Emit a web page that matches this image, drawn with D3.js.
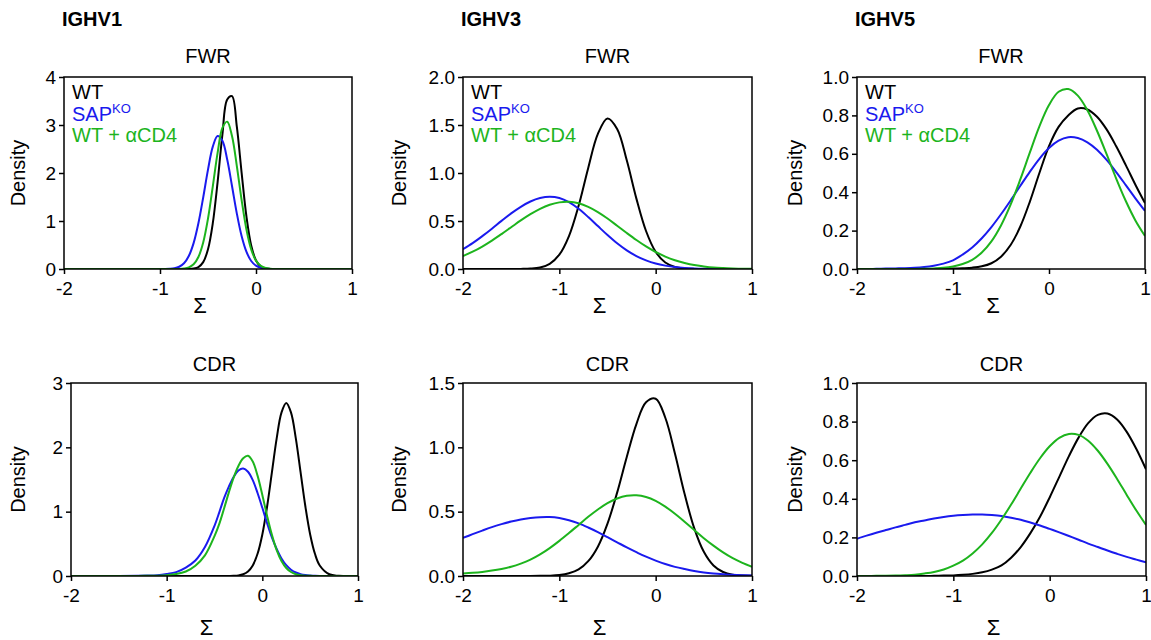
<!DOCTYPE html>
<html>
<head>
<meta charset="utf-8">
<script src="https://cdn.jsdelivr.net/npm/d3@7"></script>
<style>
  html, body { margin: 0; padding: 0; background: #fff; }
  svg { display: block; }
  text { font-family: "Liberation Sans", Arial, Helvetica, sans-serif; }
</style>
</head>
<body>
<svg id="chart" width="1151" height="640"></svg>
<script>
// ---------------- data ----------------
const genes = ["IGHV1", "IGHV3", "IGHV5"];
const regions = ["FWR", "CDR"];
const groupNames = ["WT", "SAP", "WT + αCD4"];
const groupSup = ["", "KO", ""];
const xTicks = [-2, -1, 0, 1];
const yTicksV1F = [0, 1, 2, 3, 4];
const yTicksV3F = [0, 0.5, 1.0, 1.5, 2.0];
const yTicksV5F = [0, 0.2, 0.4, 0.6, 0.8, 1.0];
const yTicksV1C = [0, 1, 2, 3];
const yTicksV3C = [0, 0.5, 1.0, 1.5];
const yTicksV5C = [0, 0.2, 0.4, 0.6, 0.8, 1.0];

const step01 = [-2,-1.9,-1.8,-1.7,-1.6,-1.5,-1.4,-1.3,-1.2,-1.1,-1.0,-0.9,-0.8,-0.7,-0.6,-0.5,-0.4,-0.3,-0.2,-0.1,0,0.1,0.2,0.3,0.4,0.5,0.6,0.7,0.8,0.9,1.0];

// IGHV1 FWR
const v1fX = [-2,-1.5,-1,-0.95,-0.9,-0.85,-0.8,-0.75,-0.7,-0.65,-0.6,-0.55,-0.5,-0.45,-0.4,-0.35,-0.3,-0.25,-0.2,-0.15,-0.1,-0.05,0,0.05,0.1,0.15,0.2,0.3,0.5,1];
const v1fWT  = [0,0,0,0,0,0,0,0,0.002,0.009,0.040,0.143,0.41,0.954,1.81,2.80,3.53,3.60,2.97,2.01,1.10,0.49,0.179,0.053,0.013,0.002,0,0,0,0];
const v1fSAP = [0,0,0,0.001,0.005,0.016,0.047,0.119,0.270,0.539,0.953,1.49,2.07,2.55,2.77,2.67,2.28,1.73,1.16,0.687,0.361,0.167,0.069,0.025,0.008,0.002,0,0,0,0];
const v1fCD4 = [0,0,0,0,0,0.001,0.002,0.010,0.033,0.098,0.251,0.553,1.05,1.72,2.42,2.94,3.07,2.77,2.15,1.44,0.829,0.409,0.175,0.065,0.021,0.006,0.001,0,0,0];

// IGHV3 FWR
const v3fX = step01;
const v3fWT  = [0,0,0,0,0,0,0.001,0.004,0.016,0.054,0.149,0.343,0.658,1.053,1.407,1.568,1.459,1.132,0.733,0.396,0.179,0.067,0.021,0.006,0.001,0,0,0,0,0,0];
const v3fSAP = [0.206,0.269,0.342,0.420,0.501,0.579,0.648,0.703,0.739,0.753,0.740,0.696,0.627,0.541,0.447,0.354,0.268,0.194,0.135,0.090,0.057,0.035,0.020,0.011,0.006,0.003,0.0015,0.001,0,0,0];
const v3fCD4 = [0.135,0.180,0.234,0.296,0.364,0.435,0.506,0.571,0.627,0.669,0.694,0.700,0.684,0.647,0.593,0.526,0.451,0.375,0.302,0.235,0.177,0.129,0.091,0.063,0.041,0.027,0.016,0.010,0.006,0.003,0.002];

// IGHV5 FWR
const v5fX = step01;
const v5fWT  = [0,0,0,0,0,0,0,0,0,0.001,0.002,0.004,0.007,0.014,0.030,0.064,0.125,0.220,0.350,0.500,0.640,0.740,0.800,0.836,0.831,0.793,0.727,0.639,0.541,0.439,0.343];
const v5fSAP = [0,0,0.001,0.002,0.003,0.004,0.006,0.010,0.017,0.028,0.045,0.075,0.112,0.160,0.218,0.285,0.357,0.432,0.506,0.574,0.630,0.668,0.686,0.682,0.660,0.621,0.568,0.505,0.437,0.368,0.302];
const v5fCD4 = [0,0,0,0,0,0,0,0.001,0.003,0.006,0.013,0.026,0.048,0.086,0.144,0.227,0.335,0.465,0.606,0.743,0.854,0.923,0.937,0.903,0.827,0.720,0.598,0.471,0.354,0.253,0.172];

// IGHV1 CDR
const v1cX = [-2,-1.5,-1.3,-1.2,-1.1,-1.0,-0.9,-0.8,-0.7,-0.6,-0.5,-0.45,-0.4,-0.35,-0.3,-0.25,-0.2,-0.15,-0.1,-0.05,0,0.05,0.1,0.15,0.2,0.25,0.3,0.35,0.4,0.45,0.5,0.55,0.6,0.7,0.8,1];
const v1cWT  = [0,0,0,0,0,0,0,0,0,0,0,0,0,0.001,0.003,0.009,0.027,0.070,0.164,0.345,0.646,1.08,1.61,2.14,2.54,2.69,2.54,2.14,1.61,1.08,0.646,0.345,0.164,0.027,0.003,0];
const v1cSAP = [0,0,0.003,0.006,0.012,0.03,0.06,0.13,0.24,0.45,0.78,0.99,1.21,1.39,1.54,1.64,1.67,1.62,1.49,1.29,1.06,0.82,0.60,0.42,0.272,0.168,0.098,0.054,0.028,0.014,0.007,0.003,0.001,0,0,0];
const v1cCD4 = [0,0,0.001,0.003,0.005,0.012,0.03,0.07,0.16,0.32,0.62,0.81,1.05,1.30,1.53,1.71,1.83,1.87,1.78,1.56,1.26,0.934,0.639,0.402,0.234,0.125,0.062,0.028,0.012,0.005,0.002,0.001,0,0,0,0];

// IGHV3 CDR
const v3cX = step01;
const v3cWT  = [0,0,0,0,0,0,0,0,0.001,0.002,0.007,0.021,0.051,0.115,0.228,0.407,0.648,0.925,1.181,1.350,1.378,1.230,0.952,0.639,0.372,0.188,0.082,0.031,0.010,0.003,0.001];
const v3cSAP = [0.296,0.325,0.353,0.380,0.403,0.423,0.439,0.450,0.457,0.458,0.450,0.433,0.409,0.377,0.341,0.302,0.262,0.222,0.185,0.150,0.120,0.093,0.071,0.054,0.039,0.028,0.020,0.014,0.009,0.006,0.004];
const v3cCD4 = [0.020,0.025,0.032,0.042,0.055,0.072,0.096,0.127,0.168,0.217,0.273,0.334,0.397,0.460,0.517,0.566,0.602,0.623,0.627,0.614,0.584,0.539,0.484,0.422,0.358,0.294,0.236,0.183,0.138,0.102,0.072];

// IGHV5 CDR
const v5cX = step01;
const v5cWT  = [0,0,0,0,0,0,0,0,0.001,0.002,0.003,0.006,0.011,0.019,0.033,0.055,0.095,0.150,0.222,0.307,0.407,0.514,0.621,0.717,0.792,0.835,0.842,0.811,0.747,0.658,0.553];
const v5cSAP = [0.193,0.209,0.224,0.238,0.252,0.265,0.278,0.288,0.298,0.306,0.312,0.316,0.3185,0.319,0.316,0.311,0.302,0.291,0.277,0.262,0.244,0.226,0.207,0.188,0.168,0.150,0.132,0.115,0.099,0.085,0.071];
const v5cCD4 = [0,0,0.001,0.001,0.002,0.004,0.007,0.013,0.021,0.034,0.054,0.080,0.117,0.164,0.223,0.293,0.370,0.453,0.535,0.610,0.672,0.716,0.736,0.731,0.701,0.649,0.581,0.503,0.420,0.339,0.264];

// ---------------- layout ----------------
const colors = ["#000000", "#1a1aee", "#1db41d"];
const panels = [
  {gene: 0, region: 0, x0: 64,  x1: 352,  y0: 77,  y1: 269, yMax: 4,   ticks: yTicksV1F, fmt: d3.format("d"),  xs: v1fX, ys: [v1fWT, v1fSAP, v1fCD4], densX: 18,  legend: true,  sigY: 313},
  {gene: 1, region: 0, x0: 463, x1: 752,  y0: 77,  y1: 269, yMax: 2,   ticks: yTicksV3F, fmt: d3.format(".1f"), xs: v3fX, ys: [v3fWT, v3fSAP, v3fCD4], densX: 399, legend: true,  sigY: 313},
  {gene: 2, region: 0, x0: 857, x1: 1145, y0: 77,  y1: 269, yMax: 1,   ticks: yTicksV5F, fmt: d3.format(".1f"), xs: v5fX, ys: [v5fWT, v5fSAP, v5fCD4], densX: 795, legend: true,  sigY: 313},
  {gene: 0, region: 1, x0: 71,  x1: 358,  y0: 383, y1: 576, yMax: 3,   ticks: yTicksV1C, fmt: d3.format("d"),  xs: v1cX, ys: [v1cWT, v1cSAP, v1cCD4], densX: 18,  legend: false, sigY: 635},
  {gene: 1, region: 1, x0: 463, x1: 752,  y0: 383, y1: 576, yMax: 1.5, ticks: yTicksV3C, fmt: d3.format(".1f"), xs: v3cX, ys: [v3cWT, v3cSAP, v3cCD4], densX: 399, legend: false, sigY: 635},
  {gene: 2, region: 1, x0: 857, x1: 1146, y0: 383, y1: 576, yMax: 1,   ticks: yTicksV5C, fmt: d3.format(".1f"), xs: v5cX, ys: [v5cWT, v5cSAP, v5cCD4], densX: 795, legend: false, sigY: 635}
];

const svg = d3.select("#chart");
const defs = svg.append("defs");

// gene titles
panels.filter(p => p.region === 0).forEach(p => {
  svg.append("text")
    .attr("x", p.x0 - 2).attr("y", 26)
    .attr("font-size", 20).attr("font-weight", "bold")
    .text(genes[p.gene]);
});

panels.forEach((p, i) => {
  const x = d3.scaleLinear().domain([-2, 1]).range([p.x0, p.x1]);
  const y = d3.scaleLinear().domain([0, p.yMax]).range([p.y1, p.y0]);
  const g = svg.append("g");

  // region title
  g.append("text")
    .attr("x", (p.x0 + p.x1) / 2).attr("y", p.region === 0 ? 63 : 371)
    .attr("text-anchor", "middle").attr("font-size", 20)
    .text(regions[p.region]);

  // curves
  defs.append("clipPath").attr("id", "clip" + i)
    .append("rect").attr("x", p.x0).attr("y", p.y0 - 2)
    .attr("width", p.x1 - p.x0).attr("height", p.y1 - p.y0 + 2);

  const line = d3.line()
    .x((d, j) => x(p.xs[j]))
    .y(d => y(d))
    .curve(d3.curveCatmullRom.alpha(0.5));

  const cg = g.append("g").attr("clip-path", `url(#clip${i})`);
  p.ys.forEach((series, k) => {
    cg.append("path")
      .attr("d", line(series))
      .attr("fill", "none")
      .attr("stroke", colors[k])
      .attr("stroke-width", 2);
  });

  // axes
  const xAxis = d3.axisBottom(x).tickValues(xTicks).tickSize(5).tickSizeOuter(0).tickPadding(8)
    .tickFormat(d3.format("d"));
  const yAxis = d3.axisLeft(y).tickValues(p.ticks).tickSize(5).tickSizeOuter(0).tickPadding(3)
    .tickFormat(p.fmt);

  const gx = g.append("g").attr("transform", `translate(0,${p.y1})`).call(xAxis);
  const gy = g.append("g").attr("transform", `translate(${p.x0},0)`).call(yAxis);
  [gx, gy].forEach(a => {
    a.select(".domain").remove();
    a.selectAll(".tick line").attr("stroke", "#000").attr("stroke-width", 1.5);
    a.selectAll(".tick text").attr("fill", "#000").attr("font-size", 19)
      .attr("font-family", '"Liberation Sans", Arial, sans-serif');
  });
  gx.selectAll(".tick text").text(d => d < 0 ? "-" + Math.abs(d) : d);

  // frame
  g.append("rect")
    .attr("x", p.x0).attr("y", p.y0)
    .attr("width", p.x1 - p.x0).attr("height", p.y1 - p.y0)
    .attr("fill", "none").attr("stroke", "#000").attr("stroke-width", 1.5);

  // axis labels
  g.append("text")
    .attr("transform", `translate(${p.densX},${(p.y0 + p.y1) / 2}) rotate(-90)`)
    .attr("text-anchor", "middle").attr("dominant-baseline", "central")
    .attr("font-size", 20)
    .text("Density");

  g.append("text")
    .attr("x", (p.x0 + p.x1) / 2 - 8).attr("y", p.sigY)
    .attr("text-anchor", "middle")
    .attr("font-family", '"Liberation Serif", "Times New Roman", serif')
    .attr("font-size", 22)
    .text("Σ");

  // legend
  if (p.legend) {
    const base = [22, 43.5, 65];
    groupNames.forEach((nm, k) => {
      const t = g.append("text")
        .attr("x", p.x0 + 8).attr("y", p.y0 + base[k])
        .attr("font-size", 20).attr("fill", colors[k]);
      t.append("tspan").text(nm);
      if (groupSup[k]) {
        t.append("tspan").attr("font-size", 13).attr("dy", -8).text(groupSup[k]);
      }
    });
  }
});
</script>
</body>
</html>
